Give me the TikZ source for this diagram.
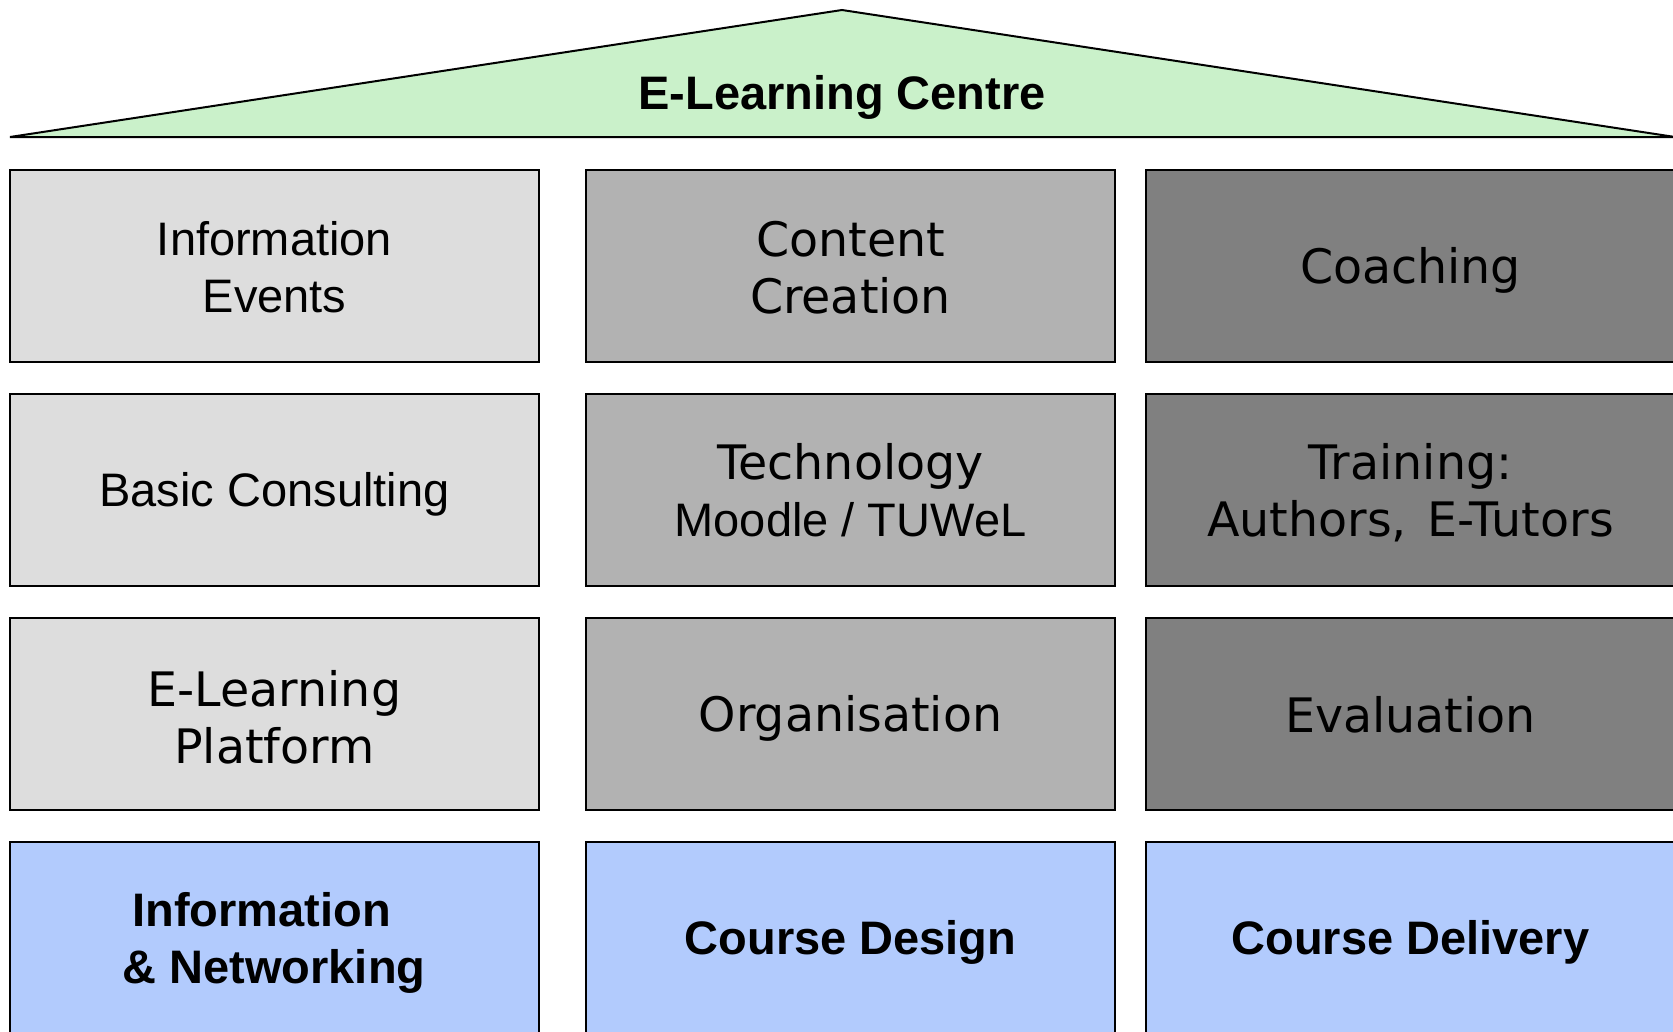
\documentclass[tikz,border=0pt]{standalone}
\usepackage{fontspec}
\setmainfont{Liberation Sans}
\newfontfamily\verd{DejaVu Sans}
\definecolor{roofgreen}{HTML}{CAF1CA}
\definecolor{lightg}{HTML}{DDDDDD}
\definecolor{midg}{HTML}{B2B2B2}
\definecolor{darkg}{HTML}{808080}
\definecolor{blueb}{HTML}{B2CBFD}
\tikzset{
  cellbox/.style={draw=black, line width=2pt, minimum width=529pt, minimum height=192pt, inner sep=0pt},
  atxt/.style={align=center, inner sep=0pt, font=\fontsize{47}{57}\selectfont},
  vtxt/.style={align=center, inner sep=0pt, font=\verd\fontsize{47.5}{57}\selectfont},
  btxt/.style={align=center, inner sep=0pt, font=\bfseries\fontsize{47}{57}\selectfont},
}
% #1 name, #2 fill, #3 position, #4 text style, #5 down shift, #6 text
\newcommand\mycell[6]{%
  \node[cellbox, fill=#2] (#1) at (#3) {};
  \node[#4, yshift=-#5pt] (#1t) at (#1.center) {#6};
}
\begin{document}
\begin{tikzpicture}[x=1pt,y=-1pt]
\useasboundingbox (0,0) rectangle (1673,1031);
% roof
\coordinate (rl) at (10,137);
\coordinate (ra) at (842,10);
\coordinate (rr) at (1675,137);
\filldraw[fill=roofgreen, draw=black, line width=2pt, line join=miter] (rl) -- (ra) -- (rr) -- cycle;
\node[btxt] (title) at (842,97) {E-Learning Centre};
% row 1
\mycell{ie}{lightg}{274.5,266}{atxt}{1}{Information\\Events}
\mycell{cc}{midg}{850.5,266}{vtxt}{1.5}{Content\\Creation}
\mycell{co}{darkg}{1410.5,266}{vtxt}{4}{Coaching}
% row 2
\mycell{bc}{lightg}{274.5,490}{atxt}{4}{Basic Consulting}
\mycell{te}{midg}{850.5,490}{atxt}{0}{{\verd\fontsize{47.5}{57}\selectfont Technology}\\Moodle / TUWeL}
\mycell{tr}{darkg}{1410.5,490}{vtxt}{3}{Training:\\Authors,\hspace{20pt}E-Tutors}
% row 3
\mycell{el}{lightg}{274.5,714}{vtxt}{3}{E-Learning\\Platform}
\mycell{or}{midg}{850.5,714}{vtxt}{4}{Organisation}
\mycell{ev}{darkg}{1410.5,714}{vtxt}{1}{Evaluation}
% row 4
\node[cellbox, fill=blueb] (in) at (274.5,938) {};
\node[btxt, yshift=-5pt, xshift=-7pt] (int) at (in.center) {Information\hspace*{12pt}\\\ \& Networking};
\mycell{cd}{blueb}{850.5,938}{btxt}{4}{Course Design}
\mycell{cdl}{blueb}{1410.5,938}{btxt}{4}{Course Delivery}
\end{tikzpicture}
\end{document}
